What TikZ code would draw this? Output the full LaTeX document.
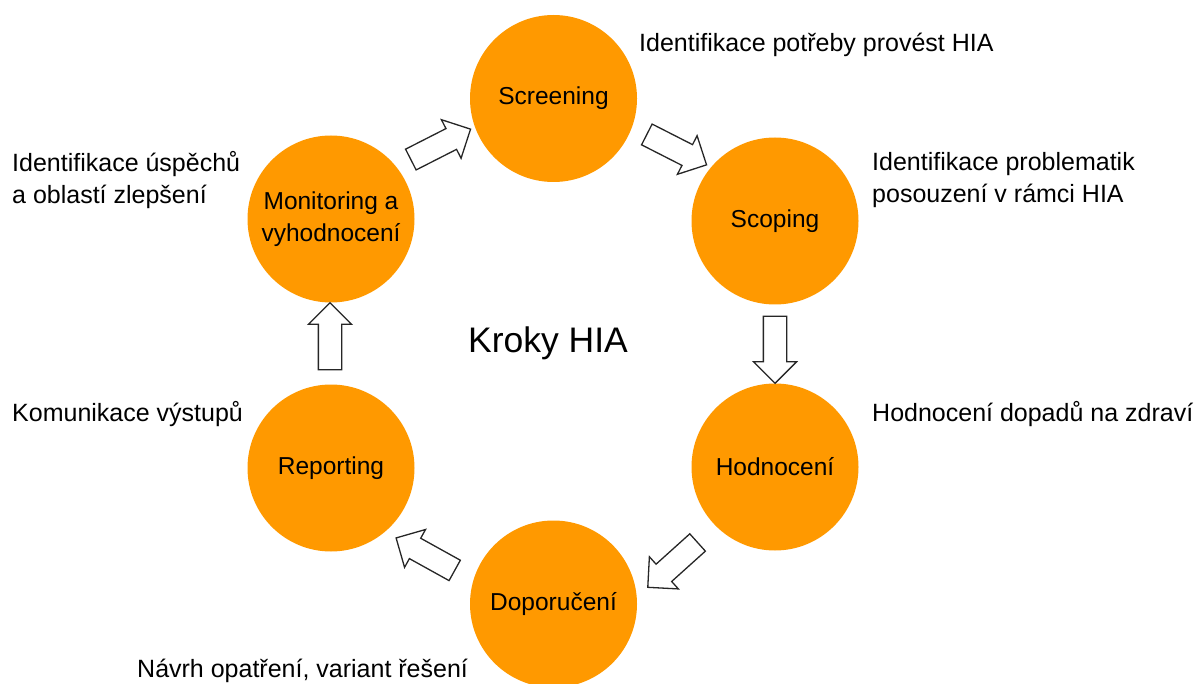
\documentclass[tikz,border=0pt]{standalone}
\usepackage{fontspec}
\setmainfont{Liberation Sans}
\usetikzlibrary{shapes.arrows,positioning}
\definecolor{StepOrange}{RGB}{255,153,0}
\tikzset{
  stepcirc/.style={circle,fill=StepOrange,minimum size=167pt,inner sep=0pt,
                   align=center,font=\fontsize{24.5}{32}\selectfont},
  blockarr/.style={single arrow,draw=black!85,fill=white,line width=1.3pt,
                   minimum height=67pt,minimum width=42pt,inner xsep=0pt,inner ysep=11pt,
                   single arrow head extend=10pt,single arrow tip angle=90},
  note/.style={inner sep=0pt,align=left,font=\fontsize{25}{32}\selectfont},
}
\begin{document}
\begin{tikzpicture}[x=1pt,y=-1pt]
\useasboundingbox (0,0) rectangle (1196,684);
\node[stepcirc] (scr) at (553.5,98.5) {Screening};
\node[stepcirc] (scp) at (775,221) {Scoping};
\node[stepcirc] (hod) at (775,467) {Hodnocení};
\node[stepcirc] (dop) at (553.5,604) {Doporučení};
\node[stepcirc] (rep) at (331,468) {Reporting};
\node[stepcirc] (mon) at (331,219) {Monitoring a\\vyhodnocení};

\node[font=\fontsize{35.5}{40}\selectfont] (title) at (548,343) {Kroky HIA};

\node[blockarr,rotate=27] (a1) at (435.5,147) {};
\node[blockarr,rotate=-27] (a2) at (671.5,147) {};
\node[blockarr,rotate=-90] (a3) at (775,344) {};
\node[blockarr,rotate=-138] (a4) at (677,561) {};
\node[blockarr,rotate=151] (a5) at (430.5,557) {};
\node[blockarr,rotate=90] (a6) at (330,342) {};

\node[note,anchor=base west] (lscr) at (639,52) {Identifikace potřeby provést HIA};
\node[note,anchor=west] (lscp) at (872,180) {Identifikace problematik\\posouzení v rámci HIA};
\node[note,anchor=base west] (lhod) at (872,421) {Hodnocení dopadů na zdraví};
\node[note,anchor=base west] (ldop) at (137,677) {Návrh opatření, variant řešení};
\node[note,anchor=base west] (lrep) at (12,421) {Komunikace výstupů};
\node[note,anchor=west] (lmon) at (12,180) {Identifikace úspěchů\\a oblastí zlepšení};
\end{tikzpicture}
\end{document}
